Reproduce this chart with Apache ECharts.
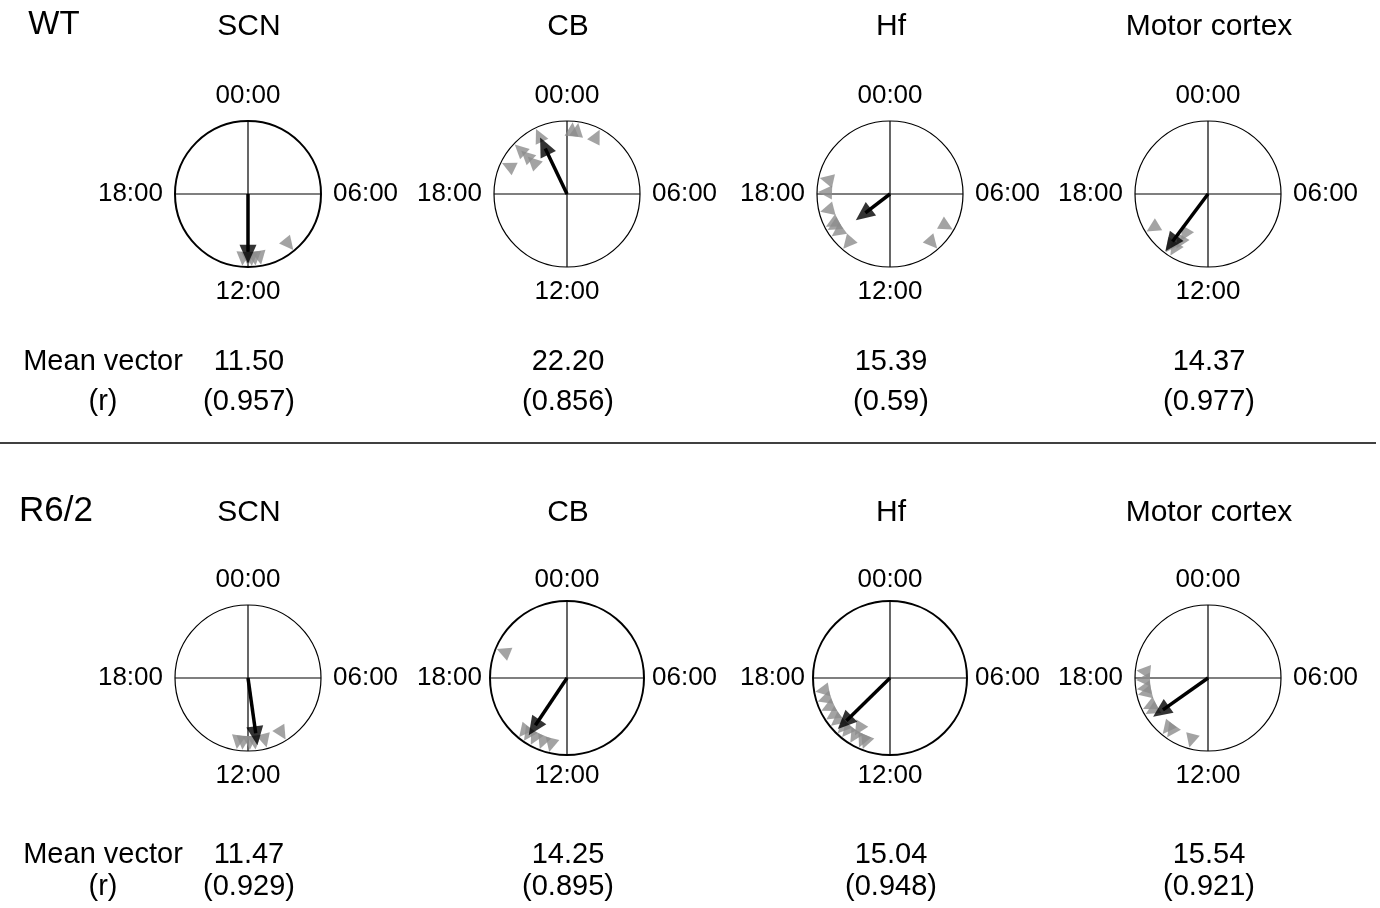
<!DOCTYPE html>
<html><head><meta charset="utf-8">
<script src="https://cdn.jsdelivr.net/npm/echarts@6/dist/echarts.min.js"></script>
<style>html,body{margin:0;padding:0;background:#fff}#c{width:1380px;height:908px}</style>
</head><body><div id="c"></div><script>
// ---- data ----
const groupNames = ['WT', 'R6/2'];
const regionNames = ['SCN', 'CB', 'Hf', 'Motor cortex'];
const tickLabels = ['00:00', '06:00', '12:00', '18:00'];
const meanLabel = 'Mean vector';
const rLabel = '(r)';

// individual peak phases (hours, clock time)
const wtScn = [9.4, 11.3, 11.6, 11.8, 12.0, 12.3];
const wtCb = [0.3, 0.6, 1.8, 22.3, 20.9, 20.9, 20.9, 19.7];
const wtHf = [18.85, 18.1, 17.05, 16.2, 16.0, 15.6, 14.7, 7.97, 9.27];
const wtMotor = [15.9, 14.4, 14.1, 14.0, 14.0];
const r62Scn = [12.6, 12.3, 11.9, 11.6, 11.0, 9.9];
const r62Cb = [19.5, 14.6, 14.3, 13.9, 13.4, 12.9];
const r62Hf = [17.3, 16.8, 16.3, 15.8, 15.4, 14.9, 14.6, 14.1, 14.1, 13.6, 13.4];
const r62Motor = [18.4, 17.9, 17.4, 17.1, 16.3, 16.0, 14.6, 14.3, 13.0];

// printed mean vector values
const wtMeanTime = [11.50, 22.20, 15.39, 14.37];
const wtMeanR = [0.957, 0.856, 0.59, 0.977];
const r62MeanTime = [11.47, 14.25, 15.04, 15.54];
const r62MeanR = [0.929, 0.895, 0.948, 0.921];
// arrow directions as drawn in the figure (hours)
const wtArrowTime = [12.0, 22.3, 15.5, 14.45];
const r62ArrowTime = [11.47, 14.25, 15.04, 15.65];

// ---- layout (style only) ----
const FONT = "'Liberation Sans', Arial, Helvetica, sans-serif";
const colX = [248, 567, 890, 1208];
const rowY = [194, 678];
const radii = [[73, 73, 73, 73], [73, 77, 77, 73]];
const circleW = [[2, 1.2, 1.2, 1.2], [1.2, 2, 2, 1.2]];
const titleY = [27, 513];
const meanY = [362, 855];
const rY = [402, 887];
const TRI = 14;

const phases = [[wtScn, wtCb, wtHf, wtMotor], [r62Scn, r62Cb, r62Hf, r62Motor]];
const meanTimes = [wtMeanTime, r62MeanTime];
const meanRs = [wtMeanR, r62MeanR];
const arrowTimes = [wtArrowTime, r62ArrowTime];

const polar = [], angleAxis = [], radiusAxis = [], series = [], graphic = [];

function txt(text, x, y, size, align) {
  graphic.push({
    type: 'text', silent: true,
    style: {
      text: text, x: x, y: y, fill: '#000',
      font: size + 'px ' + FONT,
      align: align || 'center', verticalAlign: 'middle',
      textAlign: align || 'center', textVerticalAlign: 'middle'
    }
  });
}

let idx = 0;
for (let row = 0; row < 2; row++) {
  for (let col = 0; col < 4; col++) {
    const R = radii[row][col];
    polar.push({ center: [colX[col], rowY[row]], radius: R });
    angleAxis.push({
      polarIndex: idx, type: 'value', min: 0, max: 24, interval: 6,
      startAngle: 90, clockwise: true,
      axisLine: { show: true, lineStyle: { color: '#000', width: circleW[row][col] } },
      axisTick: { show: false }, splitLine: { show: false }, splitArea: { show: false },
      axisLabel: {
        color: '#000', fontSize: 26, fontFamily: FONT, margin: 85 - R,
        formatter: v => (v >= 24 ? '' : tickLabels[Math.round(v / 6)])
      }
    });
    radiusAxis.push({ polarIndex: idx, type: 'value', min: 0, max: 1, show: false });

    // crosshair
    [[0, 12], [6, 18]].forEach(pair => {
      series.push({
        type: 'line', coordinateSystem: 'polar', polarIndex: idx, clip: false,
        symbol: 'none', silent: true, animation: false, z: 1,
        lineStyle: { color: '#000', width: 1.2 },
        data: [[1.11, pair[0]], [1.11, pair[1]]]
      });
    });

    // individual phases as triangles (duplicates stacked inward)
    const hrs = phases[row][col];
    const seen = [];
    const triData = hrs.map(h => {
      const level = seen.filter(s => Math.abs(s - h) < 0.12).length;
      seen.push(h);
      const rad = 1 - (TRI / 2 + 1 + level * 9) / R;
      return { value: [rad, h], symbolRotate: -h * 15 };
    });
    series.push({
      type: 'scatter', coordinateSystem: 'polar', polarIndex: idx,
      symbol: 'triangle', symbolSize: [TRI, TRI], silent: true, animation: false, z: 2,
      itemStyle: { color: '#8c8c8c' },
      data: triData
    });

    // mean vector arrow
    const t = meanTimes[row][col], r = meanRs[row][col], a = arrowTimes[row][col];
    series.push({
      type: 'line', coordinateSystem: 'polar', polarIndex: idx, clip: false,
      symbol: 'none', silent: true, animation: false, z: 3,
      lineStyle: { color: '#000', width: 3.5 },
      data: [[0, a], [r - 12 / R, a]]
    });
    series.push({
      type: 'scatter', coordinateSystem: 'polar', polarIndex: idx,
      symbol: 'triangle', symbolSize: [17, 19], silent: true, animation: false, z: 4,
      itemStyle: { color: '#000' },
      data: [{ value: [r - 9.5 / R, a], symbolRotate: -a * 15 }]
    });

    // texts
    txt(regionNames[col], colX[col] + 1, titleY[row], 30);
    txt(t.toFixed(2), colX[col] + 1, meanY[row], 29);
    txt('(' + String(r) + ')', colX[col] + 1, rY[row], 29);
    idx++;
  }
  txt(meanLabel, 103, meanY[row], 29);
  txt(rLabel, 103, rY[row], 29);
}
txt(groupNames[0], 54, 25, 33);
txt(groupNames[1], 56, 511, 35);
graphic.push({
  type: 'line', silent: true,
  shape: { x1: 0, y1: 443, x2: 1376, y2: 443 },
  style: { stroke: '#000', lineWidth: 1.5 }
});

const chart = echarts.init(document.getElementById('c'), null, { renderer: 'canvas' });
chart.setOption({
  animation: false,
  backgroundColor: '#fff',
  polar: polar, angleAxis: angleAxis, radiusAxis: radiusAxis,
  series: series, graphic: graphic
});
</script></body></html>
